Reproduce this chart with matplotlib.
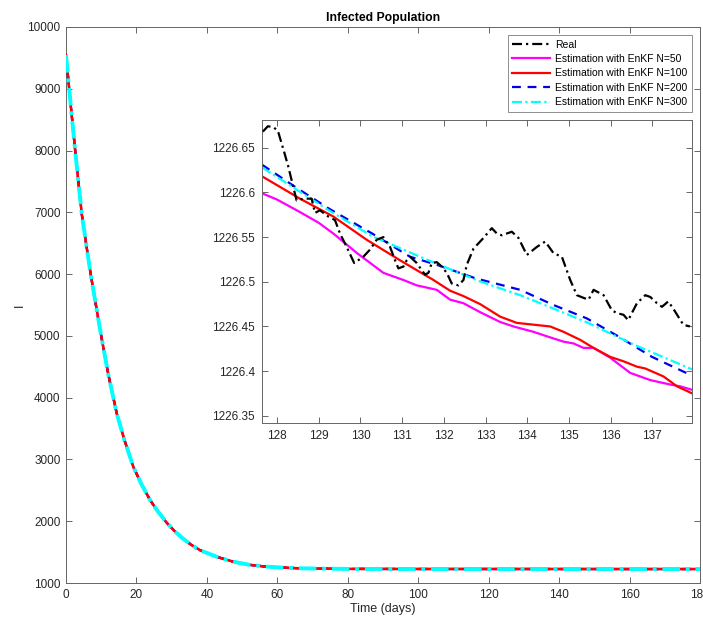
import matplotlib
matplotlib.use('Agg')
import matplotlib.pyplot as plt
from matplotlib.ticker import FuncFormatter, FixedLocator

plt.rcParams['font.family'] = ['Liberation Sans', 'DejaVu Sans']

# ---------------- data ----------------
# main (full-horizon) infected curve, all estimates overlap at this scale
t_main = [0, 1.3, 2.6, 4.5, 7.0, 9.7, 12.0, 14.4, 16.5, 19.1, 21.5, 23.9, 26.0,
          28.6, 31.0, 33.3, 35.5, 38.1, 43.0, 47.5, 52.0, 57.0, 62.0, 66.5,
          72.0, 80.0, 100.0, 127.6, 138.0, 160.0, 180.0]
I_main = [9544, 8760, 8000, 6960, 6000, 5094, 4380, 3746, 3330, 2882, 2590, 2340,
          2165, 1975, 1830, 1715, 1620, 1530, 1420, 1345, 1295, 1264, 1248, 1238,
          1233, 1228, 1226.8, 1226.65, 1226.4, 1226.2, 1226.0]

# zoomed window (inset)
t_real = [127.66, 127.78, 127.91, 128.02, 128.16, 128.27, 128.39, 128.47, 128.63,
          128.83, 128.91, 129.03, 129.23, 129.39, 129.51, 129.67, 129.85, 130.07,
          130.23, 130.39, 130.55, 130.71, 130.83, 130.91, 131.03, 131.11, 131.19,
          131.35, 131.47, 131.55, 131.63, 131.71, 131.83, 131.95, 132.07, 132.19,
          132.35, 132.47, 132.55, 132.63, 132.71, 132.83, 132.95, 133.15, 133.27,
          133.39, 133.63, 133.79, 133.99, 134.23, 134.43, 134.63, 134.83, 135.03,
          135.19, 135.35, 135.47, 135.59, 135.83, 136.03, 136.15, 136.31, 136.42,
          136.63, 136.83, 136.95, 137.11, 137.23, 137.38, 137.50, 137.74, 137.90]
I_real = [1226.668, 1226.674, 1226.673, 1226.669, 1226.647, 1226.629, 1226.606,
          1226.591, 1226.593, 1226.593, 1226.577, 1226.580, 1226.573, 1226.569,
          1226.554, 1226.539, 1226.521, 1226.528, 1226.536, 1226.547, 1226.550,
          1226.539, 1226.524, 1226.515, 1226.517, 1226.524, 1226.528, 1226.521,
          1226.513, 1226.508, 1226.510, 1226.521, 1226.522, 1226.517, 1226.510,
          1226.498, 1226.496, 1226.502, 1226.519, 1226.528, 1226.537, 1226.543,
          1226.549, 1226.560, 1226.554, 1226.552, 1226.556, 1226.549, 1226.530,
          1226.539, 1226.545, 1226.532, 1226.528, 1226.502, 1226.485, 1226.482,
          1226.480, 1226.491, 1226.485, 1226.468, 1226.465, 1226.463, 1226.457,
          1226.476, 1226.485, 1226.483, 1226.476, 1226.472, 1226.478, 1226.470,
          1226.452, 1226.450]

t_n50 = [127.64, 128.0, 128.55, 129.0, 129.35, 129.92, 130.55, 131.03, 131.35,
         131.83, 132.15, 132.47, 132.87, 133.35, 133.67, 134.15, 134.47, 134.87,
         135.11, 135.35, 135.59, 135.99, 136.47, 136.95, 137.43, 137.67, 137.96]
I_n50 = [1226.599, 1226.592, 1226.578, 1226.566, 1226.554, 1226.532, 1226.510,
         1226.502, 1226.496, 1226.491, 1226.480, 1226.476, 1226.466, 1226.455,
         1226.450, 1226.444, 1226.439, 1226.433, 1226.431, 1226.426, 1226.426,
         1226.415, 1226.398, 1226.390, 1226.385, 1226.383, 1226.379]

t_n100 = [127.64, 128.55, 129.35, 130.15, 130.95, 131.75, 132.15, 132.47, 132.87,
          133.35, 133.75, 134.15, 134.55, 134.87, 135.27, 135.59, 135.99, 136.31,
          136.63, 136.83, 137.27, 137.59, 137.96]
I_n100 = [1226.618, 1226.593, 1226.573, 1226.547, 1226.524, 1226.502, 1226.490,
          1226.484, 1226.475, 1226.461, 1226.454, 1226.452, 1226.450, 1226.444,
          1226.435, 1226.426, 1226.416, 1226.411, 1226.405, 1226.403, 1226.394,
          1226.383, 1226.375]

t_n200 = [127.64, 128.44, 129.24, 130.28, 131.19, 131.83, 132.75, 133.83, 134.63,
          135.43, 136.18, 136.99, 137.95]
I_n200 = [1226.631, 1226.606, 1226.582, 1226.554, 1226.528, 1226.519, 1226.504,
          1226.491, 1226.474, 1226.459, 1226.439, 1226.416, 1226.395]

t_n300 = [127.64, 128.44, 129.24, 130.28, 131.43, 132.83, 133.83, 134.63, 135.41,
          136.59, 137.95]
I_n300 = [1226.628, 1226.604, 1226.580, 1226.551, 1226.528, 1226.501, 1226.485,
          1226.470, 1226.455, 1226.429, 1226.402]

labels = ['Real', 'Estimation with EnKF N=50', 'Estimation with EnKF N=100',
          'Estimation with EnKF N=200', 'Estimation with EnKF N=300']

main_xticks = [0, 20, 40, 60, 80, 100, 120, 140, 160, 180]
main_yticks = [1000, 2000, 3000, 4000, 5000, 6000, 7000, 8000, 9000, 10000]
inset_xticks = [128, 129, 130, 131, 132, 133, 134, 135, 136, 137]
inset_yticks = [1226.35, 1226.4, 1226.45, 1226.5, 1226.55, 1226.6, 1226.65]

# ---------------- styles ----------------
LW = 1.6
sty = [
    dict(color='black', dashes=(4.5, 1.8, 1.0, 1.8), lw=LW),
    dict(color='#ff00ff', ls='-', lw=LW),
    dict(color='#ff0000', ls='-', lw=LW),
    dict(color='#0000ee', dashes=(4.0, 3.0), lw=LW),
    dict(color='#00ffff', dashes=(4.5, 1.5, 1.0, 1.5), lw=LW),
]

AX_COL = '0.4'
TXT_COL = '0.15'

fig = plt.figure(figsize=(7.03, 6.22), dpi=100)

# ---------------- main axes ----------------
ax = fig.add_axes([66/703, 1-583/622, 634/703, 556/622])
handles = []
main_z = [1, 2, 4, 3, 5]          # red sits just below cyan in the overview
main_lw = [1.6, 1.6, 1.8, 1.6, 2.8]
for s, z, w in zip(sty, main_z, main_lw):
    kw = dict(s)
    kw['lw'] = w
    h, = ax.plot(t_main, I_main, zorder=z, **kw)
    handles.append(h)
ax.set_xlim(0, 180)
ax.set_ylim(1000, 10000)
ax.set_xticks(main_xticks)
ax.set_yticks(main_yticks)
ax.tick_params(direction='in', top=True, right=True, length=4, width=0.7,
               colors=AX_COL, labelcolor=TXT_COL, labelsize=8.5, pad=4)
for sp in ax.spines.values():
    sp.set_color(AX_COL)
    sp.set_linewidth(0.7)
ax.set_title('Infected Population', fontsize=8.8, fontweight='bold',
             color='black', pad=4)
ax.set_xlabel('Time (days)', fontsize=9, color=TXT_COL)
ax.xaxis.set_label_coords(0.5, -0.036)
ax.set_ylabel('I', fontsize=9, color=TXT_COL)
ax.yaxis.set_label_coords(-0.063, 0.5)

leg = ax.legend(handles, labels, loc='upper right',
                bbox_to_anchor=(692/703, 1-35/622), bbox_transform=fig.transFigure,
                fontsize=7.5, handlelength=3.6, handletextpad=0.5,
                labelspacing=0.42, borderpad=0.45, borderaxespad=0,
                frameon=True, fancybox=False)
leg.set_zorder(10)
leg.get_frame().set_edgecolor('0.45')
leg.get_frame().set_linewidth(0.7)
for lh in leg.get_lines():
    lh.set_linewidth(1.6)

# ---------------- inset ----------------
ins = fig.add_axes([262/703, 1-423/622, 430/703, 303/622])
series = [(t_n50, I_n50), (t_n100, I_n100), (t_n200, I_n200), (t_n300, I_n300)]
for (tt, vv), s in zip(series, sty[1:]):
    ins.plot(tt, vv, **s)
ins.plot(t_real, I_real, zorder=5, **sty[0])
ins.set_xlim(127.64, 137.95)
ins.set_ylim(1226.342, 1226.681)
ins.xaxis.set_major_locator(FixedLocator(inset_xticks))
ins.yaxis.set_major_locator(FixedLocator(inset_yticks))
ins.xaxis.set_major_formatter(FuncFormatter(lambda v, p: '{:g}'.format(round(v, 2))))
ins.yaxis.set_major_formatter(FuncFormatter(lambda v, p: '{:g}'.format(round(v, 2))))
ins.tick_params(direction='in', top=True, right=True, length=4, width=0.7,
                colors=AX_COL, labelcolor=TXT_COL, labelsize=8.5, pad=5)
for sp in ins.spines.values():
    sp.set_color(AX_COL)
    sp.set_linewidth(0.7)

fig.savefig('out.png', dpi=100)
